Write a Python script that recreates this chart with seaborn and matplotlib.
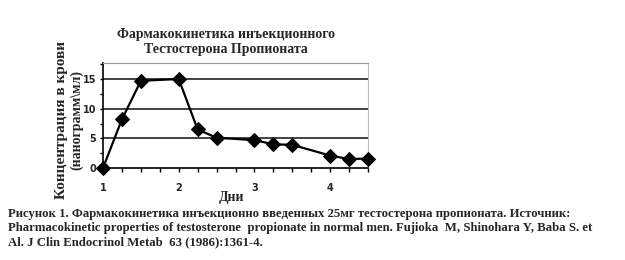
import matplotlib
matplotlib.use("Agg")
import matplotlib.pyplot as plt
import seaborn as sns
import pandas as pd
from matplotlib.ticker import MultipleLocator, FixedLocator

days = [1.0, 1.25, 1.5, 2.0, 2.25, 2.5, 3.0, 3.25, 3.5, 4.0, 4.25, 4.5]
conc = [0.0, 8.2, 14.7, 15.0, 6.5, 5.1, 4.7, 4.0, 3.9, 2.1, 1.5, 1.6]
xticks = [1, 2, 3, 4]
yticks = [0, 5, 10, 15]

title = "Фармакокинетика инъекционного\nТестостерона Пропионата"
ylabel1 = "Концентрация в крови"
ylabel2 = "(нанограмм\\мл)"
xlabel = "Дни"
caption = ("Рисунок 1. Фармакокинетика инъекционно введенных 25мг тестостерона пропионата. Источник:\n"
           "Pharmacokinetic properties of testosterone  propionate in normal men. Fujioka  M, Shinohara Y, Baba S. et\n"
           "Al. J Clin Endocrinol Metab  63 (1986):1361-4.")

sns.set_style("white")
plt.rcParams['font.family'] = ['Liberation Serif', 'DejaVu Serif']

df = pd.DataFrame({"day": days, "conc": conc})

fig = plt.figure(figsize=(6.25, 2.6), dpi=100)
ax = fig.add_axes([103/625, 92/260, 265/625, 105/260])

sns.lineplot(data=df, x="day", y="conc", ax=ax, color="black", linewidth=1.6,
             marker="D", markersize=7.5, markeredgecolor="black", markerfacecolor="black")
for ln in ax.get_lines():
    ln.set_clip_on(False)
    ln.set_zorder(5)

ax.set_xlim(1, 4.5)
ax.set_ylim(0, 17.7)
ax.xaxis.set_major_locator(FixedLocator(xticks))
ax.xaxis.set_minor_locator(MultipleLocator(0.25))
ax.yaxis.set_major_locator(FixedLocator(yticks))
ax.yaxis.set_minor_locator(MultipleLocator(2.5))
for h in yticks[1:]:
    ax.axhline(h, color="#222222", linewidth=1.2, zorder=0)

ax.tick_params(axis="x", which="both", direction="out", length=3, width=1, color="black",
               bottom=True)
ax.tick_params(axis="x", which="major", pad=8, labelsize=7)
ax.tick_params(axis="y", which="both", direction="out", length=2, width=1, color="black", left=True)
ax.tick_params(axis="y", which="major", pad=3, labelsize=7)
for lab in ax.get_xticklabels() + ax.get_yticklabels():
    lab.set_fontfamily(['DejaVu Sans'])
    lab.set_fontweight('bold')

ax.spines["left"].set_color("black")
ax.spines["bottom"].set_color("black")
ax.spines["left"].set_linewidth(1.2)
ax.spines["bottom"].set_linewidth(1.2)
ax.spines["top"].set_color("#999999")
ax.spines["right"].set_color("#bbbbbb")
ax.set_xlabel("")
ax.set_ylabel("")

fig.text(226/625, 1 - 42/260, title, ha="center", va="center", fontsize=10,
         fontweight="bold", linespacing=1.15)
fig.text(61/625, 1 - 120/260, ylabel1, rotation=90, ha="center", va="center",
         fontsize=11, fontweight="bold")
fig.text(77/625, 1 - 120/260, ylabel2, rotation=90, ha="center", va="center",
         fontsize=10, fontweight="bold")
fig.text(232/625, 1 - 197/260, xlabel, ha="center", va="center", fontsize=10,
         fontweight="bold")
fig.text(8/625, 1 - 228/260, caption, ha="left", va="center", fontsize=9.2,
         fontweight="bold", linespacing=1.2)

fig.savefig("out.png", dpi=100)
